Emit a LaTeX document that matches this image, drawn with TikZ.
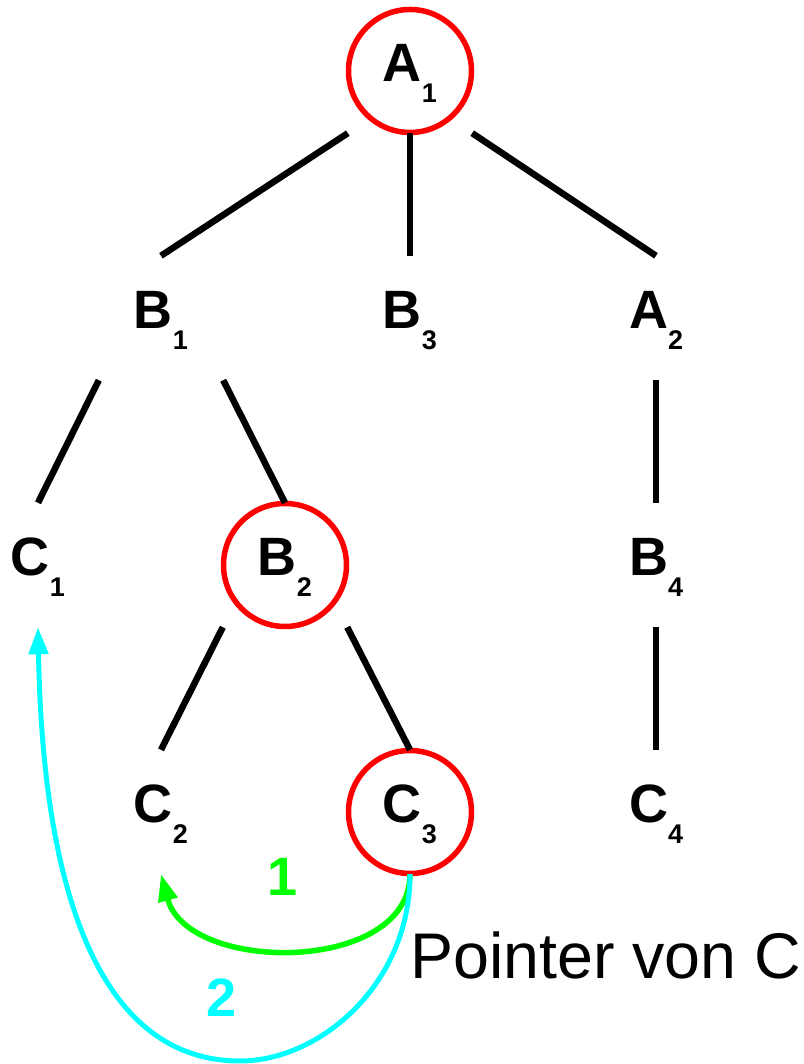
\documentclass[tikz,border=0pt]{standalone}
\usepackage{fontspec}
\setmainfont{Liberation Sans}
\usetikzlibrary{arrows.meta,calc}
\definecolor{markred}{RGB}{255,0,0}
\definecolor{ptrgreen}{RGB}{0,255,0}
\definecolor{ptrcyan}{RGB}{0,255,255}

% letter with a lowered index, as used for every tree node
\newcommand{\tlabel}[2]{{\fontsize{54}{58}\selectfont\bfseries #1}\raisebox{-21pt}{\fontsize{27}{30}\selectfont\bfseries #2}\hspace{9pt}}

\begin{document}
\begin{tikzpicture}[x=1pt,y=1pt,
  treenode/.style={rectangle, minimum width=124pt, minimum height=124pt,
    inner sep=0pt, text height=39pt, text depth=17pt},
  branch/.style={line width=6.5pt},
  markring/.style={draw=markred, line width=5.5pt},
  ptr/.style={line width=5.5pt, -{Triangle[length=27pt,width=19pt]}},
  numlabel/.style={font=\fontsize{54}{58}\selectfont\bfseries, inner sep=0pt},
]
\fill[white] (0,0) rectangle (803,1064);
\useasboundingbox (0,0) rectangle (803,1064);

% tree nodes
\node[treenode] (A1) at (410,993) {\tlabel{A}{1}};
\node[treenode] (B1) at (161,746) {\tlabel{B}{1}};
\node[treenode] (B3) at (410,746) {\tlabel{B}{3}};
\node[treenode] (A2) at (656,746) {\tlabel{A}{2}};
\node[treenode] (C1) at (38,499)  {\tlabel{C}{1}};
\node[treenode] (B2) at (285,499) {\tlabel{B}{2}};
\node[treenode] (B4) at (656,499) {\tlabel{B}{4}};
\node[treenode] (C2) at (161,252) {\tlabel{C}{2}};
\node[treenode] (C3) at (410,252) {\tlabel{C}{3}};
\node[treenode] (C4) at (656,252) {\tlabel{C}{4}};

% highlighted nodes
\draw[markring] (A1.center) circle (61.5);
\draw[markring] (B2.center) circle (61.5);
\draw[markring] (C3.center) circle (61.5);

% tree branches
\draw[branch] (A1.south west) -- (B1.north);
\draw[branch] (A1.south) -- (B3.north);
\draw[branch] (A1.south east) -- (A2.north);
\draw[branch] (B1.south west) -- (C1.north);
\draw[branch] (B1.south east) -- (B2.north);
\draw[branch] (A2.south) -- (B4.north);
\draw[branch] (B2.south west) -- (C2.north);
\draw[branch] (B2.south east) -- (C3.north);
\draw[branch] (B4.south) -- (C4.north);

% pointers of C
\draw[ptr, ptrgreen] (C3.south) .. controls ($(C3.south)+(0,-100)$) and ($(C2.south)+(27,-100)$) .. (C2.south);
\coordinate (cybot) at (240,3);
\draw[ptr, ptrcyan, line width=5pt] (C3.south) .. controls ($(C3.south)+(0,-110)$) and (320,3) .. (cybot)
  .. controls (60,3) and ($(C1.south)+(3,-156)$) .. (C1.south);

\node[numlabel, ptrgreen] (n1) at (283,187) {1};
\node[numlabel, ptrcyan] (n2) at (222,66) {2};
\node[anchor=base west, inner sep=0pt, font=\fontsize{64.5}{70}\selectfont] (ptrtext) at (410,85) {Pointer von C};
\end{tikzpicture}
\end{document}
